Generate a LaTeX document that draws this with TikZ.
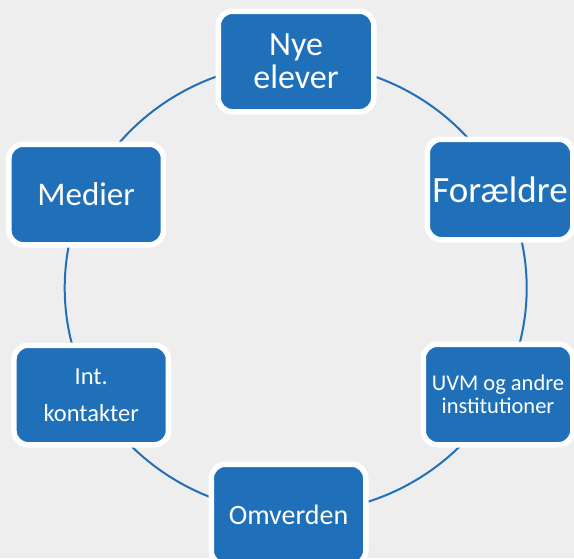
\documentclass[tikz,border=0pt]{standalone}
\usepackage{fontspec}
\setmainfont{Carlito}
\definecolor{boxblue}{RGB}{31,112,184}
\definecolor{bggray}{RGB}{238,238,238}
\tikzset{
  cyclebox/.style={draw=white, line width=5.5pt, fill=boxblue, rounded corners=14pt,
    text=white, align=center, inner sep=0pt},
  ring/.style={draw=boxblue, line width=2pt}
}
\begin{document}
\begin{tikzpicture}[x=1pt,y=-1pt]
\useasboundingbox (0,0) rectangle (574,558);
\clip (0,0) rectangle (574,558);
\fill[bggray] (0,0) rectangle (574,558);
\coordinate (c) at (295.7,288);
\draw[ring] (c) ellipse [x radius=231, y radius=225];
\node[cyclebox, minimum width=155.5pt, minimum height=100.5pt, font=\fontsize{34}{33}\selectfont] (nye) at (296,61.5) {Nye\\elever};
\node[cyclebox, minimum width=145.5pt, minimum height=100.5pt, font=\fontsize{37}{40}\selectfont] (for) at (500,189.5) {Forældre};
\node[cyclebox, minimum width=154.5pt, minimum height=100.5pt, font=\fontsize{33}{40}\selectfont] (med) at (86.2,194.5) {Medier};
\node[cyclebox, minimum width=154.5pt, minimum height=99.5pt, font=\fontsize{24.5}{36.5}\selectfont] (int) at (91.2,395) {Int.\\kontakter};
\node[cyclebox, minimum width=149.5pt, minimum height=100.5pt, font=\fontsize{22.5}{23}\selectfont] (uvm) at (498,394.5) {UVM og andre\\institutioner};
\node[cyclebox, minimum width=154.5pt, minimum height=100.5pt, font=\fontsize{28}{34}\selectfont] (omv) at (288.5,514.5) {Omverden};
\end{tikzpicture}
\end{document}
